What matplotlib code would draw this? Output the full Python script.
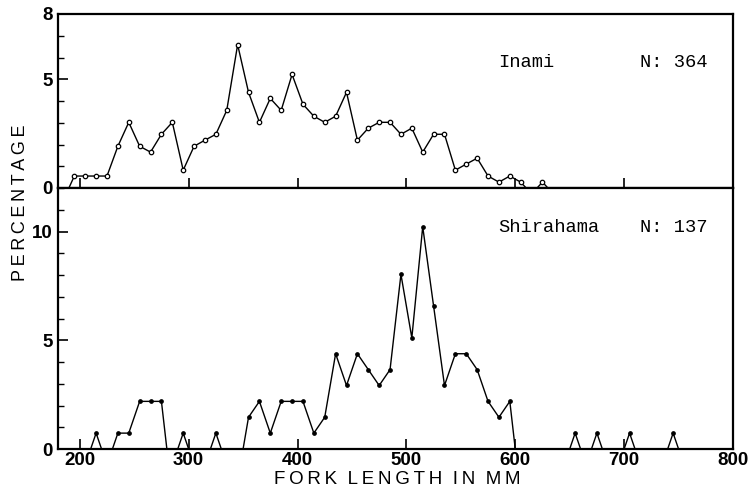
import matplotlib
matplotlib.use("Agg")
import matplotlib.pyplot as plt
import numpy as np

# ---- data (percent of fish per 10 mm fork-length class) ----
inami_len = [190, 195, 205, 215, 225, 235, 245, 255, 265, 275, 285, 295, 305, 315,
             325, 335, 345, 355, 365, 375, 385, 395, 405, 415, 425, 435, 445, 455,
             465, 475, 485, 495, 505, 515, 525, 535, 545, 555, 565, 575, 585, 595,
             605, 610, 620, 625, 630]
inami_pct = [0, 0.55, 0.55, 0.55, 0.55, 1.92, 3.02, 1.92, 1.65, 2.47, 3.02, 0.82, 1.92, 2.20,
             2.47, 3.57, 6.59, 4.40, 3.02, 4.12, 3.57, 5.22, 3.85, 3.30, 3.02, 3.30, 4.40, 2.20,
             2.75, 3.02, 3.02, 2.47, 2.75, 1.65, 2.47, 2.47, 0.82, 1.10, 1.37, 0.55, 0.27, 0.55,
             0.27, 0, 0, 0.27, 0]

shira_len = [210, 215, 220, 230, 235, 245, 255, 265, 275, 280, 290, 295, 300, 320, 325, 330,
             350, 355, 365, 375, 385, 395, 405, 415, 425, 435, 445, 455, 465, 475, 485, 495,
             505, 515, 525, 535, 545, 555, 565, 575, 585, 595, 600, 650, 655, 660, 670, 675,
             680, 700, 705, 710, 740, 745, 750]
shira_pct = [0, 0.73, 0, 0, 0.73, 0.73, 2.19, 2.19, 2.19, 0, 0, 0.73, 0, 0, 0.73, 0,
             0, 1.46, 2.19, 0.73, 2.19, 2.19, 2.19, 0.73, 1.46, 4.38, 2.92, 4.38, 3.65, 2.92, 3.65, 8.03,
             5.11, 10.22, 6.57, 2.92, 4.38, 4.38, 3.65, 2.19, 1.46, 2.19, 0, 0, 0.73, 0, 0, 0.73,
             0, 0, 0.73, 0, 0, 0.73, 0]

x_ticks = [200, 300, 400, 500, 600, 700, 800]
top_yticks = [0, 5, 8]
bot_yticks = [0, 5, 10]
labels = [("Inami", "N: 364"), ("Shirahama", "N: 137")]

W, H = 748, 495
fig = plt.figure(figsize=(W / 100, H / 100), dpi=100)

left = 58 / W
width = (733 - 58) / W
ax_top = fig.add_axes([left, 1 - 188 / H, width, (188 - 14) / H])
ax_bot = fig.add_axes([left, 1 - 449 / H, width, (449 - 188) / H])

tick_font = dict(family=["Liberation Sans Narrow", "Liberation Sans", "DejaVu Sans"],
                 weight="bold", size=13.5)
mono = ["Liberation Mono", "DejaVu Sans Mono"]

def style(ax, ymax, yticks, show_x):
    ax.set_xlim(180, 800)
    ax.set_ylim(0, ymax)
    for s in ax.spines.values():
        s.set_linewidth(1.6)
        s.set_color("black")
    ax.set_xticks(x_ticks[:-1] if not show_x else x_ticks)
    ax.set_yticks(yticks)
    ax.set_yticks(np.arange(0, ymax + 1, 1), minor=True)
    ax.tick_params(axis="both", which="major", direction="in", length=7, width=1.2,
                   top=False, right=False, pad=4)
    ax.tick_params(axis="x", which="major", pad=2)
    ax.tick_params(axis="y", which="minor", direction="in", length=4, width=1.0)
    ax.tick_params(axis="x", which="minor", length=0)
    if show_x:
        ax.set_xticklabels([str(v) for v in x_ticks], fontdict=tick_font)
    else:
        ax.set_xticklabels([])
    ax.set_yticklabels([str(v) for v in yticks], fontdict=tick_font)

style(ax_top, 8, top_yticks, False)
style(ax_bot, 12, bot_yticks, True)

# frequency polygons
ax_top.plot(inami_len, inami_pct, color="black", lw=1.0, clip_on=False, zorder=3)
tx = [x for x, y in zip(inami_len, inami_pct) if y > 0]
ty = [y for y in inami_pct if y > 0]
ax_top.plot(tx, ty, ls="none", marker="o", ms=3.2, mfc="white", mec="black", mew=0.9, zorder=4)

ax_bot.plot(shira_len, shira_pct, color="black", lw=1.0, clip_on=False, zorder=3)
bx = [x for x, y in zip(shira_len, shira_pct) if y > 0]
by = [y for y in shira_pct if y > 0]
ax_bot.plot(bx, by, ls="none", marker="o", ms=2.4, mfc="black", mec="black", zorder=4)

# panel labels
ax_top.text(584, 5.75, labels[0][0], family=mono, fontsize=13.5, ha="left", va="center")
ax_top.text(715, 5.75, labels[0][1], family=mono, fontsize=13.5, ha="left", va="center")
ax_bot.text(584, 10.18, labels[1][0], family=mono, fontsize=13.5, ha="left", va="center")
ax_bot.text(715, 10.18, labels[1][1], family=mono, fontsize=13.5, ha="left", va="center")

def spaced(s):
    return "  ".join("\u2009".join(w) for w in s.split(" "))

fig.text(397 / W, 1 - 480 / H, spaced("FORK LENGTH IN MM"), ha="center", va="center",
         family=["Liberation Sans", "DejaVu Sans"], fontsize=13.5)
fig.text(21 / W, 1 - 203 / H, spaced("PERCENTAGE"), rotation=90,
         ha="center", va="center", family=["Liberation Sans", "DejaVu Sans"], fontsize=13)

fig.savefig("out.png", dpi=100, facecolor="white")
